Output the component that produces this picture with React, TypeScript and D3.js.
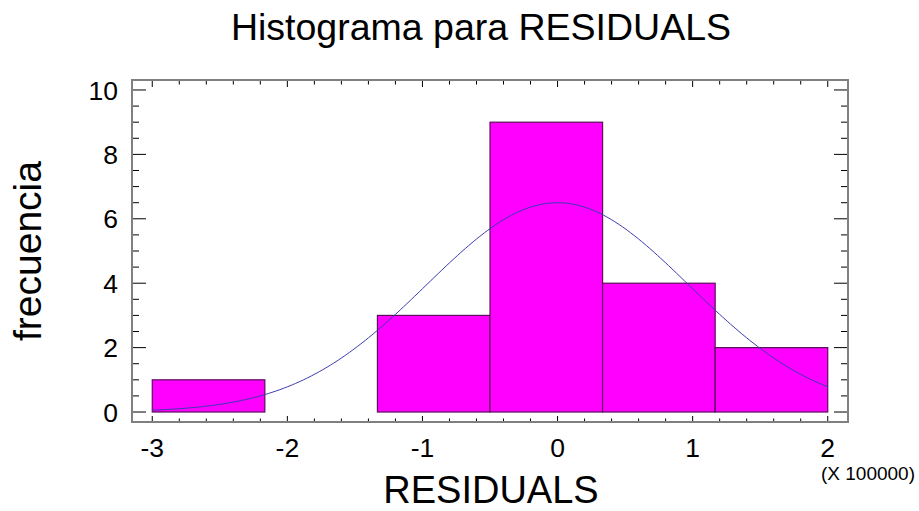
import React from "react";
import * as d3 from "d3";

const binEdges = [-3, -2.1667, -1.3333, -0.5, 0.3333, 1.1667, 2];
const counts = [1, 0, 3, 9, 4, 2];
const xTicks = [-3, -2, -1, 0, 1, 2];
const yTicks = [0, 2, 4, 6, 8, 10];
const fitMean = 0;
const fitSd = 0.972;
const fitN = 19;
const fitBinWidth = 5 / 6;

const W = 919;
const H = 511;
const FONT = "'Liberation Sans', Arial, sans-serif";

export default function App() {
  const x = d3.scaleLinear().domain([-3.15, 2.15]).range([132, 848]);
  const y = d3.scaleLinear().domain([-0.31, 10.31]).range([422, 80]);
  const [x0, x1] = x.range();
  const [yb, yt] = y.range();

  const xMinor = d3.range(-3, 2.0001, 0.2).map((v) => Math.round(v * 10) / 10);
  const yMinor = d3.range(0, 10.0001, 0.5);

  const curvePts = d3.range(-3, 2.0001, 0.02).map((v) => {
    const z = (v - fitMean) / fitSd;
    const dens = Math.exp(-0.5 * z * z) / (fitSd * Math.sqrt(2 * Math.PI));
    return [v, fitN * fitBinWidth * dens] as [number, number];
  });
  const line = d3
    .line<[number, number]>()
    .x((d) => x(d[0]))
    .y((d) => y(d[1]))
    .curve(d3.curveMonotoneX);

  const isMajorX = (v: number) => Math.abs(v - Math.round(v)) < 1e-6;
  const isMajorY = (v: number) => Math.abs(v / 2 - Math.round(v / 2)) < 1e-6;

  return (
    <svg
      width={W}
      height={H}
      style={{ position: "absolute", left: 0, top: 0, background: "#fff" }}
      fontFamily={FONT}
    >
      <rect x={0} y={0} width={W} height={H} fill="#fff" />
      {counts.map((c, i) =>
        c > 0 ? (
          <rect
            key={i}
            x={x(binEdges[i])}
            y={y(c)}
            width={x(binEdges[i + 1]) - x(binEdges[i])}
            height={y(0) - y(c)}
            fill="#ff00ff"
            stroke="#5a105a"
            strokeWidth={1.2}
          />
        ) : null
      )}
      <path d={line(curvePts) || ""} fill="none" stroke="#3a3ab0" strokeWidth={1} />

      {xMinor.map((v, i) => {
        const L = isMajorX(v) ? 6 : 3.5;
        const px = x(v);
        return (
          <g key={"xt" + i} stroke="#000" strokeWidth={1}>
            <line x1={px} x2={px} y1={yb} y2={yb - L} />
            <line x1={px} x2={px} y1={yt} y2={yt + L + 1} />
          </g>
        );
      })}
      {yMinor.map((v, i) => {
        const L = isMajorY(v) ? 14 : 7;
        const py = y(v);
        return (
          <g key={"yt" + i} stroke="#000" strokeWidth={1}>
            <line x1={x0} x2={x0 + L} y1={py} y2={py} />
            <line x1={x1} x2={x1 - L} y1={py} y2={py} />
          </g>
        );
      })}
      <rect
        x={x0}
        y={yt}
        width={x1 - x0}
        height={yb - yt}
        fill="none"
        stroke="#808080"
        strokeWidth={2}
      />

      {xTicks.map((v) => (
        <text key={"xl" + v} x={x(v)} y={457} textAnchor="middle" fontSize={26.5} fill="#000">
          {v}
        </text>
      ))}
      {yTicks.map((v) => (
        <text
          key={"yl" + v}
          x={118}
          y={y(v)}
          dy="0.36em"
          textAnchor="end"
          fontSize={26.5}
          fill="#000"
        >
          {v}
        </text>
      ))}

      <text x={481} y={40} textAnchor="middle" fontSize={37.5} fill="#000">
        Histograma para RESIDUALS
      </text>
      <text x={491} y={503} textAnchor="middle" fontSize={38} fill="#000">
        RESIDUALS
      </text>
      <text
        transform="translate(41,251) rotate(-90)"
        textAnchor="middle"
        fontSize={39}
        fill="#000"
      >
        frecuencia
      </text>
      <text x={915} y={480} textAnchor="end" fontSize={19} fill="#000">
        (X 100000)
      </text>
    </svg>
  );
}
